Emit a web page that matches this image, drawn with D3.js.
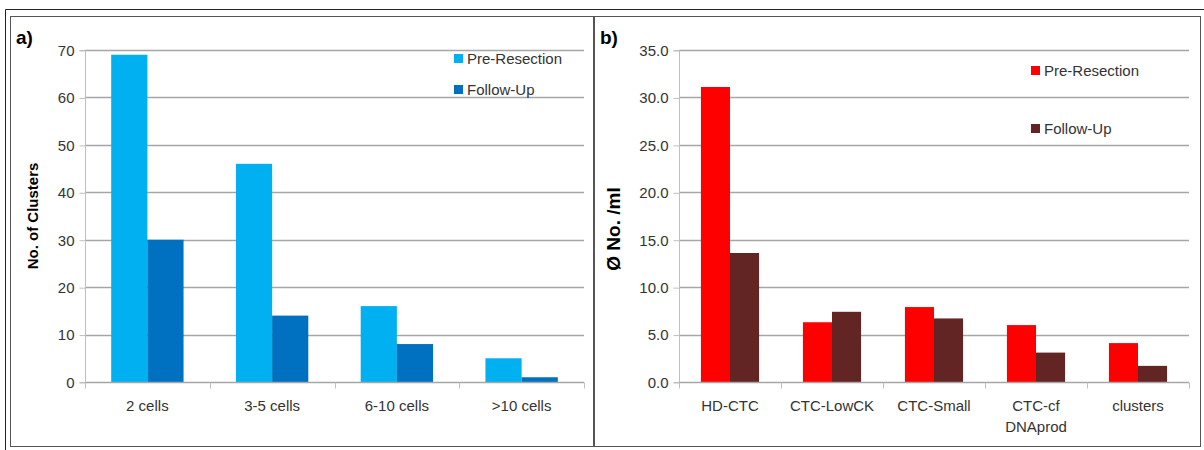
<!DOCTYPE html>
<html>
<head>
<meta charset="utf-8">
<script src="https://cdn.jsdelivr.net/npm/d3@7"></script>
<style>
  body { margin: 0; background: #fff; }
  svg text { font-family: "Liberation Sans", Arial, sans-serif; }
</style>
</head>
<body>
<svg id="chart" width="1204" height="450"></svg>
<script>
// panel a data
const catsA = ['2 cells', '3-5 cells', '6-10 cells', '>10 cells'];
const preA = [69, 46, 16, 5];
const followA = [30, 14, 8, 1];
const ticksA = [0, 10, 20, 30, 40, 50, 60, 70];

// panel b data
const catsB = [['HD-CTC'], ['CTC-LowCK'], ['CTC-Small'], ['CTC-cf', 'DNAprod'], ['clusters']];
const preB = [31.1, 6.3, 7.9, 6.0, 4.1];
const followB = [13.6, 7.4, 6.7, 3.1, 1.7];
const ticksB = [0, 5, 10, 15, 20, 25, 30, 35];

const seriesNames = ['Pre-Resection', 'Follow-Up'];

const svg = d3.select('#chart');

// frames
svg.append('path').attr('d', 'M5.5,450 V9.5 H1204').attr('fill', 'none').attr('stroke', '#222');
svg.append('rect').attr('x', 10.5).attr('y', 16.5).attr('width', 583).attr('height', 430)
  .attr('fill', 'none').attr('stroke', '#555');
svg.append('rect').attr('x', 594.5).attr('y', 16.5).attr('width', 606).attr('height', 430)
  .attr('fill', 'none').attr('stroke', '#555');

function panel(opt) {
  const g = svg.append('g');
  const x = d3.scaleBand().domain(d3.range(opt.cats.length)).range([opt.x0, opt.x1])
    .paddingInner(opt.pad).paddingOuter(opt.pad / 2);
  const xs = d3.scaleBand().domain([0, 1]).range([0, x.bandwidth()]);
  const y = d3.scaleLinear().domain([0, opt.max]).range([382, 50]);

  // gridlines
  g.append('g').selectAll('line').data(opt.ticks.slice(1)).join('line')
    .attr('x1', opt.x0).attr('x2', opt.x1)
    .attr('y1', d => Math.round(y(d)) + 0.5).attr('y2', d => Math.round(y(d)) + 0.5)
    .attr('stroke', '#a6a6a6').attr('stroke-width', 1.3);

  // y axis
  const yAxis = d3.axisLeft(y).tickValues(opt.ticks).tickSize(6).tickPadding(5)
    .tickFormat(opt.fmt);
  const ya = g.append('g').attr('transform', `translate(${opt.x0 + 0.5},0.5)`).call(yAxis);
  ya.select('.domain').attr('stroke', '#bfbfbf').attr('d', `M-6,${y(0)}H0V${y(opt.max)}H-6`);
  ya.selectAll('.tick line').attr('stroke', '#bfbfbf');
  ya.selectAll('text').attr('font-size', 15).attr('fill', '#333');

  // bars
  const grp = g.append('g').selectAll('g').data(opt.cats.map((c, i) => i)).join('g')
    .attr('transform', i => `translate(${x(i)},0)`);
  grp.selectAll('rect').data(i => [opt.pre[i], opt.follow[i]]).join('rect')
    .attr('x', (d, j) => xs(j)).attr('width', xs.bandwidth())
    .attr('y', d => y(d)).attr('height', d => y(0) - y(d))
    .attr('fill', (d, j) => opt.colors[j]);

  // x axis
  const xa = g.append('g').attr('transform', `translate(0,${y(0) + 0.5})`);
  xa.append('line').attr('x1', opt.x0).attr('x2', opt.x1).attr('stroke', '#a6a6a6').attr('stroke-width', 1.3);
  const step = (opt.x1 - opt.x0) / opt.cats.length;
  xa.selectAll('.tk').data(d3.range(opt.cats.length + 1)).join('line')
    .attr('class', 'tk')
    .attr('x1', i => Math.round(opt.x0 + i * step) + 0.5).attr('x2', i => Math.round(opt.x0 + i * step) + 0.5)
    .attr('y1', 0).attr('y2', 6).attr('stroke', '#bfbfbf');
  xa.selectAll('text').data(opt.cats).join('text')
    .attr('text-anchor', 'middle').attr('font-size', 15).attr('fill', '#333')
    .attr('transform', (c, i) => `translate(${x(i) + x.bandwidth() / 2},28)`)
    .selectAll('tspan').data(c => Array.isArray(c) ? c : [c]).join('tspan')
    .attr('x', 0).attr('dy', (t, k) => k === 0 ? 0 : 21).text(t => t);

  // panel letter
  g.append('text').attr('x', opt.lx).attr('y', 44).attr('font-size', 19).attr('font-weight', 'bold')
    .attr('fill', '#000').text(opt.letter);

  // y title
  g.append('text').attr('transform', `translate(${opt.tx},${opt.ty}) rotate(-90)`)
    .attr('text-anchor', 'middle').attr('font-size', opt.tsize).attr('font-weight', 'bold').attr('fill', '#000')
    .text(opt.title);

  // legend
  const lg = g.append('g').selectAll('g').data(seriesNames).join('g')
    .attr('transform', (d, j) => `translate(${opt.legX},${opt.legY[j]})`);
  lg.append('rect').attr('x', 0).attr('y', -10).attr('width', 9).attr('height', 9)
    .attr('fill', (d, j) => opt.colors[j]);
  lg.append('text').attr('x', 13).attr('y', 0).attr('font-size', 15).attr('fill', '#333').text(d => d);
}

panel({
  cats: catsA, pre: preA, follow: followA, ticks: ticksA, max: 70,
  x0: 85, x1: 584, pad: 0.42, fmt: d3.format('d'),
  colors: ['#00b0f0', '#0070c0'], letter: 'a)', lx: 16,
  title: 'No. of Clusters', tsize: 15, tx: 38, ty: 216,
  legX: 454, legY: [64, 95]
});

panel({
  cats: catsB, pre: preB, follow: followB, ticks: ticksB, max: 35,
  x0: 679, x1: 1189, pad: 0.43, fmt: d3.format('.1f'),
  colors: ['#ff0000', '#632523'], letter: 'b)', lx: 600,
  title: 'Ø No. /ml', tsize: 19, tx: 620, ty: 229,
  legX: 1031, legY: [76, 134]
});
</script>
</body>
</html>
